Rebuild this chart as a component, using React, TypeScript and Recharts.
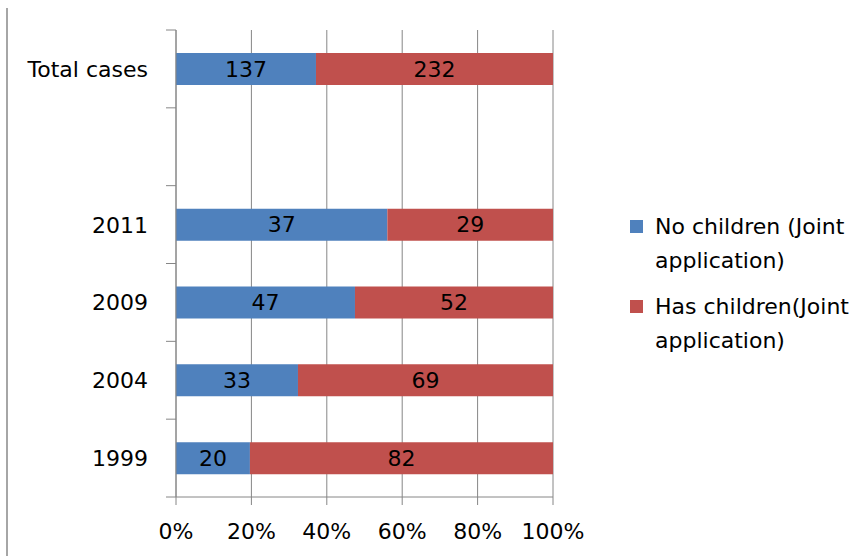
import React from 'react';
import {
  BarChart,
  Bar,
  XAxis,
  YAxis,
  CartesianGrid,
  LabelList,
} from 'recharts';

const categories = ['Total cases', '', '2011', '2009', '2004', '1999'];
const noChildren = [137, null, 37, 47, 33, 20];
const hasChildren = [232, null, 29, 52, 69, 82];
const xTicks = [0, 0.2, 0.4, 0.6, 0.8, 1];

const seriesNames = ['No children (Joint application)', 'Has children(Joint application)'];
const seriesColors = ['#4F81BD', '#C0504D'];

const data = categories.map((name, i) => ({
  name,
  noChildren: noChildren[i],
  hasChildren: hasChildren[i],
}));

const WIDTH = 861;
const HEIGHT = 556;
const AXIS_W = 176;
const X_AXIS_H = 59;
const MARGIN = { top: 30, right: 308, bottom: 0, left: 0 };
const PLOT_H = HEIGHT - MARGIN.top - MARGIN.bottom - X_AXIS_H;
const FONT = '"DejaVu Sans", sans-serif';
const GRID = '#868686';

function CategoryTick(props: any) {
  const { x, y, payload, index } = props;
  const band = PLOT_H / categories.length;
  const axisX = MARGIN.left + AXIS_W;
  return (
    <g>
      <text
        x={x}
        y={y}
        dy="0.36em"
        textAnchor="end"
        fontFamily={FONT}
        fontSize={22}
        fill="#000"
      >
        {payload.value}
      </text>
      <line x1={axisX - 10} x2={axisX} y1={y - band / 2} y2={y - band / 2} stroke={GRID} />
      {index === categories.length - 1 && (
        <line x1={axisX - 10} x2={axisX} y1={y + band / 2} y2={y + band / 2} stroke={GRID} />
      )}
    </g>
  );
}

function SideLegend() {
  return (
    <div
      style={{
        position: 'absolute',
        left: 630,
        top: 210,
        fontFamily: FONT,
        fontSize: 22,
        lineHeight: '34px',
        color: '#000',
      }}
    >
      {seriesNames.map((n, i) => (
        <div key={n} style={{ display: 'flex', alignItems: 'flex-start', marginBottom: 12 }}>
          <span
            style={{
              width: 13,
              height: 13,
              marginTop: 10,
              marginRight: 12,
              background: seriesColors[i],
              flex: 'none',
            }}
          />
          <span style={{ width: 206 }}>{n}</span>
        </div>
      ))}
    </div>
  );
}

export default function App() {
  return (
    <div
      style={{
        position: 'absolute',
        left: 0,
        top: 0,
        width: WIDTH,
        height: HEIGHT,
        background: '#fff',
        overflow: 'hidden',
      }}
    >
      <div
        style={{
          position: 'absolute',
          left: 6,
          top: 8,
          bottom: 0,
          borderLeft: '2px solid #a6a6a6',
        }}
      />
      <BarChart
        width={WIDTH}
        height={HEIGHT}
        data={data}
        layout="vertical"
        stackOffset="expand"
        margin={MARGIN}
      >
        <CartesianGrid horizontal={false} stroke={GRID} />
        <XAxis
          type="number"
          domain={[0, 1]}
          ticks={xTicks}
          height={X_AXIS_H}
          tickFormatter={(v: number) => `${Math.round(v * 100)}%`}
          tickSize={8}
          tickMargin={18}
          stroke={GRID}
          tick={{ fill: '#000', fontFamily: FONT, fontSize: 22 }}
          interval={0}
        />
        <YAxis
          type="category"
          dataKey="name"
          width={AXIS_W}
          tickLine={false}
          tickSize={10}
          tickMargin={18}
          stroke={GRID}
          tick={<CategoryTick />}
          interval={0}
        />
        <Bar dataKey="noChildren" stackId="a" fill={seriesColors[0]} barSize={32} isAnimationActive={false}>
          <LabelList dataKey="noChildren" position="center" fill="#000" fontFamily={FONT} fontSize={22} />
        </Bar>
        <Bar dataKey="hasChildren" stackId="a" fill={seriesColors[1]} barSize={32} isAnimationActive={false}>
          <LabelList dataKey="hasChildren" position="center" fill="#000" fontFamily={FONT} fontSize={22} />
        </Bar>
      </BarChart>
      <SideLegend />
    </div>
  );
}
